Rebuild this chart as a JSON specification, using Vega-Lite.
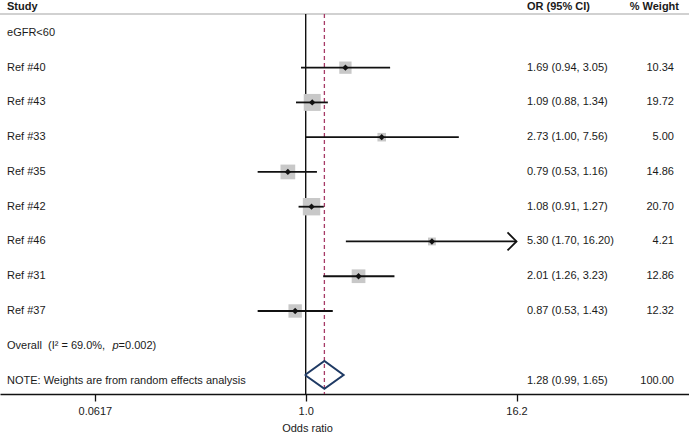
{
  "$schema": "https://vega.github.io/schema/vega-lite/v6.json",
  "width": 689,
  "height": 394,
  "autosize": {"type": "none"},
  "padding": {"left": 0, "top": 0, "right": 0, "bottom": 40},
  "background": "white",
  "config": {
    "view": {"stroke": null},
    "font": "Liberation Sans",
    "text": {"font": "Liberation Sans", "fontSize": 11, "color": "#1a1a1a"},
    "axisX": {"labelExpr": "datum.value < 0.1 ? '0.0617' : (datum.value < 2 ? '1.0' : '16.2')",
      "grid": false, "domainColor": "#111111", "domainWidth": 1.3, "tickColor": "#111111", "tickWidth": 1.3, "tickSize": 7,
      "labelPadding": 4, "labelFont": "Liberation Sans", "labelFontSize": 11, "labelColor": "#1a1a1a",
      "titleFont": "Liberation Sans", "titleFontSize": 11, "titleFontWeight": "normal", "titleColor": "#1a1a1a",
      "titleX": 307, "titleY": 37, "titleBaseline": "alphabetic", "titleAlign": "center"}
  },
  "datasets": {
    "studies": [
      {"study": "Ref #40", "or": 1.69, "lo": 0.94, "hi": 3.05, "w": 10.34, "ci": "1.69 (0.94, 3.05)", "row": 1},
      {"study": "Ref #43", "or": 1.09, "lo": 0.88, "hi": 1.34, "w": 19.72, "ci": "1.09 (0.88, 1.34)", "row": 2},
      {"study": "Ref #33", "or": 2.73, "lo": 1.00, "hi": 7.56, "w": 5.00, "ci": "2.73 (1.00, 7.56)", "row": 3},
      {"study": "Ref #35", "or": 0.79, "lo": 0.53, "hi": 1.16, "w": 14.86, "ci": "0.79 (0.53, 1.16)", "row": 4},
      {"study": "Ref #42", "or": 1.08, "lo": 0.91, "hi": 1.27, "w": 20.70, "ci": "1.08 (0.91, 1.27)", "row": 5},
      {"study": "Ref #46", "or": 5.30, "lo": 1.70, "hi": 16.20, "w": 4.21, "ci": "5.30 (1.70, 16.20)", "row": 6},
      {"study": "Ref #31", "or": 2.01, "lo": 1.26, "hi": 3.23, "w": 12.86, "ci": "2.01 (1.26, 3.23)", "row": 7},
      {"study": "Ref #37", "or": 0.87, "lo": 0.53, "hi": 1.43, "w": 12.32, "ci": "0.87 (0.53, 1.43)", "row": 8}
    ],
    "labels": [
      {"label": "eGFR<60", "row": 0},
      {"label": "Ref #40", "row": 1},
      {"label": "Ref #43", "row": 2},
      {"label": "Ref #33", "row": 3},
      {"label": "Ref #35", "row": 4},
      {"label": "Ref #42", "row": 5},
      {"label": "Ref #46", "row": 6},
      {"label": "Ref #31", "row": 7},
      {"label": "Ref #37", "row": 8},
      {"label": "NOTE: Weights are from random effects analysis", "row": 10}
    ],
    "pooled": [
      {"or": 1.28, "lo": 0.99, "hi": 1.65, "w": 100, "ci": "1.28 (0.99, 1.65)", "row": 10}
    ],
    "diamond": [
      {"x": 0.99, "y": 9.84, "o": 0},
      {"x": 1.28, "y": 9.44, "o": 1},
      {"x": 1.65, "y": 9.84, "o": 2},
      {"x": 1.28, "y": 10.24, "o": 3},
      {"x": 0.99, "y": 9.84, "o": 4}
    ]
  },
  "layer": [
    {
      "data": {"values": [{}]},
      "mark": {"type": "rule", "color": "#c2c2c2", "strokeWidth": 1.5},
      "encoding": {
        "y": {"datum": -0.544, "type": "quantitative", "scale": {"domain": [-0.9465, 10.388], "reverse": true, "zero": false, "nice": false}, "axis": null}
      }
    },
    {
      "data": {"values": [{}]},
      "mark": {"type": "rule", "color": "#111111", "strokeWidth": 1.4},
      "encoding": {
        "x": {"datum": 1, "type": "quantitative", "scale": {"type": "log", "domain": [0.01762, 158.2], "nice": false}, "title": "Odds ratio",
          "axis": {"values": [0.0617, 1, 16.2]}},
        "y": {"datum": -0.544, "type": "quantitative", "scale": {"domain": [-0.9465, 10.388], "reverse": true, "zero": false, "nice": false}, "axis": null},
        "y2": {"datum": 10.388}
      }
    },
    {
      "data": {"values": [{}]},
      "mark": {"type": "rule", "color": "#a63a66", "strokeWidth": 1.3, "strokeDash": [4, 3]},
      "encoding": {
        "x": {"datum": 1.28, "type": "quantitative", "scale": {"type": "log", "domain": [0.01762, 158.2], "nice": false}, "title": "Odds ratio"},
        "y": {"datum": -0.544, "type": "quantitative", "scale": {"domain": [-0.9465, 10.388], "reverse": true, "zero": false, "nice": false}, "axis": null},
        "y2": {"datum": 10.388}
      }
    },
    {
      "data": {"name": "studies"},
      "mark": {"type": "square", "filled": true, "color": "#c8c8c8", "opacity": 1},
      "encoding": {
        "x": {"field": "or", "type": "quantitative", "scale": {"type": "log", "domain": [0.01762, 158.2], "nice": false}, "title": "Odds ratio"},
        "y": {"field": "row", "type": "quantitative", "scale": {"domain": [-0.9465, 10.388], "reverse": true, "zero": false, "nice": false}, "axis": null},
        "size": {"field": "w", "type": "quantitative", "scale": {"type": "linear", "domain": [0, 20], "range": [0, 292], "zero": true}, "legend": null}
      }
    },
    {
      "data": {"name": "studies"},
      "mark": {"type": "rule", "color": "#111111", "strokeWidth": 1.8},
      "encoding": {
        "x": {"field": "lo", "type": "quantitative", "scale": {"type": "log", "domain": [0.01762, 158.2], "nice": false}, "title": "Odds ratio"},
        "x2": {"field": "hi"},
        "y": {"field": "row", "type": "quantitative", "scale": {"domain": [-0.9465, 10.388], "reverse": true, "zero": false, "nice": false}, "axis": null}
      }
    },
    {
      "data": {"name": "studies"},
      "transform": [{"filter": "datum.hi >= 16.2"}],
      "mark": {"type": "point", "shape": "M -1 -1 L 0 0 L -1 1", "filled": false, "color": "#111111", "strokeWidth": 1.8, "size": 324, "opacity": 1},
      "encoding": {
        "x": {"field": "hi", "type": "quantitative", "scale": {"type": "log", "domain": [0.01762, 158.2], "nice": false}, "title": "Odds ratio"},
        "y": {"field": "row", "type": "quantitative", "scale": {"domain": [-0.9465, 10.388], "reverse": true, "zero": false, "nice": false}, "axis": null}
      }
    },
    {
      "data": {"name": "studies"},
      "mark": {"type": "point", "shape": "diamond", "filled": true, "color": "#111111", "size": 40, "opacity": 1},
      "encoding": {
        "x": {"field": "or", "type": "quantitative", "scale": {"type": "log", "domain": [0.01762, 158.2], "nice": false}, "title": "Odds ratio"},
        "y": {"field": "row", "type": "quantitative", "scale": {"domain": [-0.9465, 10.388], "reverse": true, "zero": false, "nice": false}, "axis": null}
      }
    },
    {
      "data": {"name": "diamond"},
      "mark": {"type": "line", "color": "#1f3a64", "strokeWidth": 2, "strokeJoin": "miter"},
      "encoding": {
        "x": {"field": "x", "type": "quantitative", "scale": {"type": "log", "domain": [0.01762, 158.2], "nice": false}, "title": "Odds ratio"},
        "y": {"field": "y", "type": "quantitative", "scale": {"domain": [-0.9465, 10.388], "reverse": true, "zero": false, "nice": false}, "axis": null},
        "order": {"field": "o", "type": "quantitative"}
      }
    },
    {
      "data": {"name": "labels"},
      "mark": {"type": "text", "align": "left", "baseline": "middle"},
      "encoding": {
        "x": {"datum": 0.01933, "type": "quantitative", "scale": {"type": "log", "domain": [0.01762, 158.2], "nice": false}, "title": "Odds ratio"},
        "y": {"field": "row", "type": "quantitative", "scale": {"domain": [-0.9465, 10.388], "reverse": true, "zero": false, "nice": false}, "axis": null},
        "text": {"field": "label"}
      }
    },
    {
      "data": {"values": [{"t": "Overall\u00a0 (I² = 69.0%, ", "row": 9}]},
      "mark": {"type": "text", "align": "left", "baseline": "middle"},
      "encoding": {
        "x": {"datum": 0.01933, "type": "quantitative", "scale": {"type": "log", "domain": [0.01762, 158.2], "nice": false}, "title": "Odds ratio"},
        "y": {"field": "row", "type": "quantitative", "scale": {"domain": [-0.9465, 10.388], "reverse": true, "zero": false, "nice": false}, "axis": null},
        "text": {"field": "t"}
      }
    },
    {
      "data": {"values": [{"t": "p", "row": 9}]},
      "mark": {"type": "text", "align": "left", "baseline": "middle", "fontStyle": "italic", "dx": 105.5},
      "encoding": {
        "x": {"datum": 0.01933, "type": "quantitative", "scale": {"type": "log", "domain": [0.01762, 158.2], "nice": false}, "title": "Odds ratio"},
        "y": {"field": "row", "type": "quantitative", "scale": {"domain": [-0.9465, 10.388], "reverse": true, "zero": false, "nice": false}, "axis": null},
        "text": {"field": "t"}
      }
    },
    {
      "data": {"values": [{"t": "=0.002)", "row": 9}]},
      "mark": {"type": "text", "align": "left", "baseline": "middle", "dx": 111.6},
      "encoding": {
        "x": {"datum": 0.01933, "type": "quantitative", "scale": {"type": "log", "domain": [0.01762, 158.2], "nice": false}, "title": "Odds ratio"},
        "y": {"field": "row", "type": "quantitative", "scale": {"domain": [-0.9465, 10.388], "reverse": true, "zero": false, "nice": false}, "axis": null},
        "text": {"field": "t"}
      }
    },
    {
      "data": {"name": "studies"},
      "mark": {"type": "text", "align": "left", "baseline": "middle"},
      "encoding": {
        "x": {"datum": 18.61, "type": "quantitative", "scale": {"type": "log", "domain": [0.01762, 158.2], "nice": false}, "title": "Odds ratio"},
        "y": {"field": "row", "type": "quantitative", "scale": {"domain": [-0.9465, 10.388], "reverse": true, "zero": false, "nice": false}, "axis": null},
        "text": {"field": "ci"}
      }
    },
    {
      "data": {"name": "studies"},
      "mark": {"type": "text", "align": "right", "baseline": "middle"},
      "encoding": {
        "x": {"datum": 129.7, "type": "quantitative", "scale": {"type": "log", "domain": [0.01762, 158.2], "nice": false}, "title": "Odds ratio"},
        "y": {"field": "row", "type": "quantitative", "scale": {"domain": [-0.9465, 10.388], "reverse": true, "zero": false, "nice": false}, "axis": null},
        "text": {"field": "w", "format": ".2f"}
      }
    },
    {
      "data": {"name": "pooled"},
      "mark": {"type": "text", "align": "left", "baseline": "middle"},
      "encoding": {
        "x": {"datum": 18.61, "type": "quantitative", "scale": {"type": "log", "domain": [0.01762, 158.2], "nice": false}, "title": "Odds ratio"},
        "y": {"field": "row", "type": "quantitative", "scale": {"domain": [-0.9465, 10.388], "reverse": true, "zero": false, "nice": false}, "axis": null},
        "text": {"field": "ci"}
      }
    },
    {
      "data": {"name": "pooled"},
      "mark": {"type": "text", "align": "right", "baseline": "middle"},
      "encoding": {
        "x": {"datum": 129.7, "type": "quantitative", "scale": {"type": "log", "domain": [0.01762, 158.2], "nice": false}, "title": "Odds ratio"},
        "y": {"field": "row", "type": "quantitative", "scale": {"domain": [-0.9465, 10.388], "reverse": true, "zero": false, "nice": false}, "axis": null},
        "text": {"field": "w", "format": ".2f"}
      }
    },
    {
      "data": {"values": [{"t": "Study", "row": -0.745}]},
      "mark": {"type": "text", "align": "left", "baseline": "middle", "fontWeight": "bold"},
      "encoding": {
        "x": {"datum": 0.01933, "type": "quantitative", "scale": {"type": "log", "domain": [0.01762, 158.2], "nice": false}, "title": "Odds ratio"},
        "y": {"field": "row", "type": "quantitative", "scale": {"domain": [-0.9465, 10.388], "reverse": true, "zero": false, "nice": false}, "axis": null},
        "text": {"field": "t"}
      }
    },
    {
      "data": {"values": [{"t": "OR (95% CI)", "row": -0.745}]},
      "mark": {"type": "text", "align": "left", "baseline": "middle", "fontWeight": "bold"},
      "encoding": {
        "x": {"datum": 18.61, "type": "quantitative", "scale": {"type": "log", "domain": [0.01762, 158.2], "nice": false}, "title": "Odds ratio"},
        "y": {"field": "row", "type": "quantitative", "scale": {"domain": [-0.9465, 10.388], "reverse": true, "zero": false, "nice": false}, "axis": null},
        "text": {"field": "t"}
      }
    },
    {
      "data": {"values": [{"t": "% Weight", "row": -0.745}]},
      "mark": {"type": "text", "align": "right", "baseline": "middle", "fontWeight": "bold"},
      "encoding": {
        "x": {"datum": 138.6, "type": "quantitative", "scale": {"type": "log", "domain": [0.01762, 158.2], "nice": false}, "title": "Odds ratio"},
        "y": {"field": "row", "type": "quantitative", "scale": {"domain": [-0.9465, 10.388], "reverse": true, "zero": false, "nice": false}, "axis": null},
        "text": {"field": "t"}
      }
    }
  ]
}
